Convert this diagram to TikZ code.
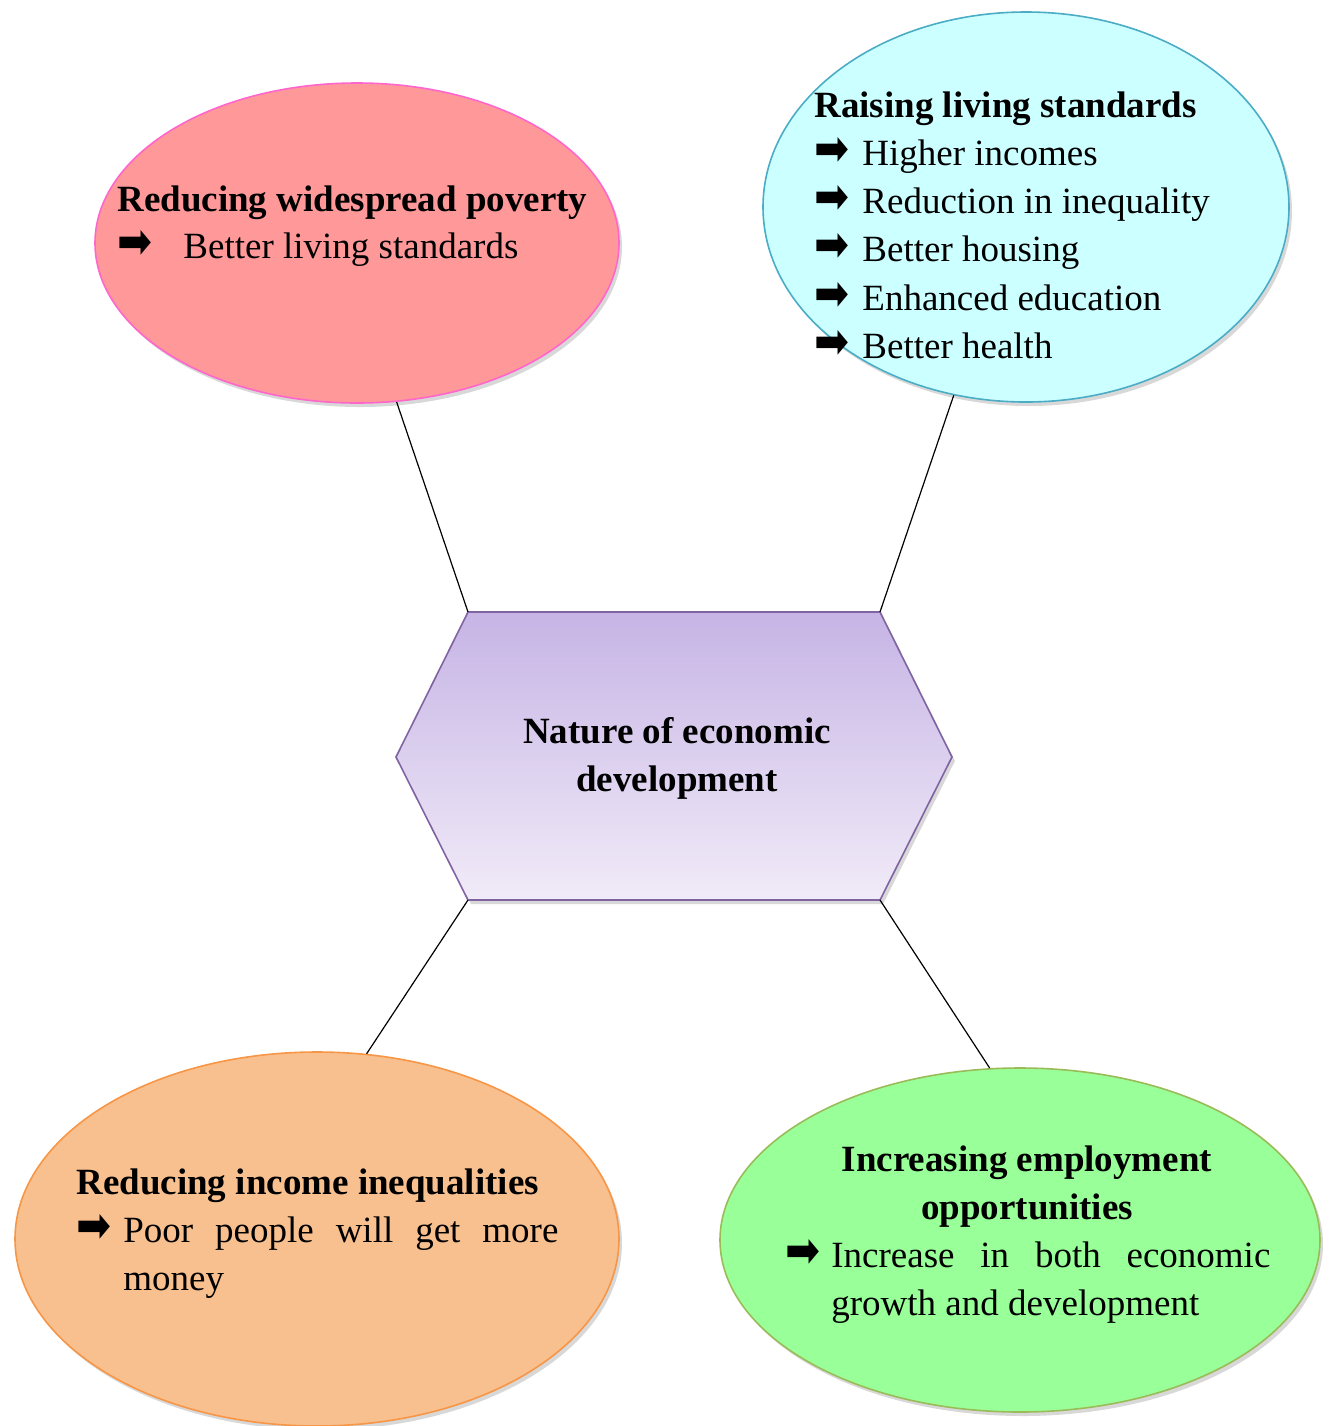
\documentclass[tikz,border=0pt]{standalone}
\usepackage{fontspec}
\usepackage{graphicx}
\setmainfont{Liberation Serif}
\newfontfamily\arrfont{DejaVu Sans}
\usetikzlibrary{shapes.geometric,shadows}
\definecolor{pinkfill}{HTML}{FF9999}
\definecolor{pinkline}{HTML}{FF66CC}
\definecolor{cyanfill}{HTML}{CCFFFF}
\definecolor{cyanline}{HTML}{4BACC6}
\definecolor{orangefill}{HTML}{F9C08F}
\definecolor{orangeline}{HTML}{F79646}
\definecolor{greenfill}{HTML}{99FF99}
\definecolor{greenline}{HTML}{9BBB59}
\definecolor{hextop}{HTML}{C6B4E5}
\definecolor{hexbot}{HTML}{F1EBF8}
\definecolor{hexline}{HTML}{8064A2}
\newcommand{\arw}[1]{\makebox[#1][l]{\resizebox{17.5pt}{14pt}{\arrfont ➡}}}
\begin{document}
\begin{tikzpicture}[x=0.5pt,y=-0.5pt,
  bubble/.style={ellipse, inner sep=0pt, line width=0.8pt,
    drop shadow={shadow xshift=1.5pt, shadow yshift=-2pt, opacity=0.22, fill=black!70}},
  txt/.style={anchor=base west, inner sep=0pt, font=\fontsize{18.5}{24}\selectfont},
  ttl/.style={anchor=base west, inner sep=0pt, font=\fontsize{18.5}{24}\selectfont\bfseries},
  link/.style={draw=black, line width=0.6pt}]
\useasboundingbox (0,0) rectangle (1331,1426);

% ellipses
\node[bubble, fill=pinkfill, draw=pinkline, minimum width=262pt, minimum height=160pt] (pink) at (357,243) {};
\node[bubble, fill=cyanfill, draw=cyanline, minimum width=263pt, minimum height=195pt] (cyan) at (1026,207) {};
\node[bubble, fill=orangefill, draw=orangeline, minimum width=302pt, minimum height=187pt] (orange) at (317,1239) {};
\node[bubble, fill=greenfill, draw=greenline, minimum width=300pt, minimum height=172pt] (green) at (1020,1240) {};

% hexagon
\coordinate (hTL) at (468,612);
\coordinate (hTR) at (880,612);
\coordinate (hR) at (952,757);
\coordinate (hBR) at (880,900);
\coordinate (hBL) at (468,900);
\coordinate (hL) at (396,757);
\path[draw=hexline, line width=0.8pt, top color=hextop, bottom color=hexbot,
  drop shadow={shadow xshift=1.5pt, shadow yshift=-2pt, opacity=0.22, fill=black!70}]
  (hTL) -- (hTR) -- (hR) -- (hBR) -- (hBL) -- (hL) -- cycle;

% connectors
\draw[link] (pink.-76) -- (hTL);
\draw[link] (cyan.-111) -- (hTR);
\draw[link] (hBL) -- (orange.75);
\draw[link] (hBR) -- (green.100);

% centre text
\node[ttl, anchor=base] (h1) at (677,743) {Nature of economic};
\node[ttl, anchor=base] (h2) at (677,791) {development};

% pink text
\node[ttl] (p1) at (117,211) {Reducing widespread poverty};
\node[txt] (p2) at (117,258) {\arw{33pt}Better living standards};

% cyan text
\node[ttl] (c0) at (814,117) {Raising living standards};
\node[txt] (c1) at (814,165) {\arw{24pt}Higher incomes};
\node[txt] (c2) at (814,213) {\arw{24pt}Reduction in inequality};
\node[txt] (c3) at (814,261) {\arw{24pt}Better housing};
\node[txt] (c4) at (814,310) {\arw{24pt}Enhanced education};
\node[txt] (c5) at (814,358) {\arw{24pt}Better health};

% orange text
\node[ttl] (o1) at (76,1194) {Reducing income inequalities};
\node[txt] (o2) at (76,1242) {\arw{23.5pt}\makebox[217.5pt][s]{Poor\hfill people\hfill will\hfill get\hfill more}};
\node[txt] (o3) at (123,1290) {money};

% green text
\node[ttl, anchor=base] (g1) at (1027,1171) {Increasing employment};
\node[ttl, anchor=base] (g2) at (1027,1219) {opportunities};
\node[txt] (g3) at (785,1267) {\arw{23pt}\makebox[219.5pt][s]{Increase\hfill in\hfill both\hfill economic}};
\node[txt] (g4) at (831,1315) {growth and development};
\end{tikzpicture}
\end{document}
